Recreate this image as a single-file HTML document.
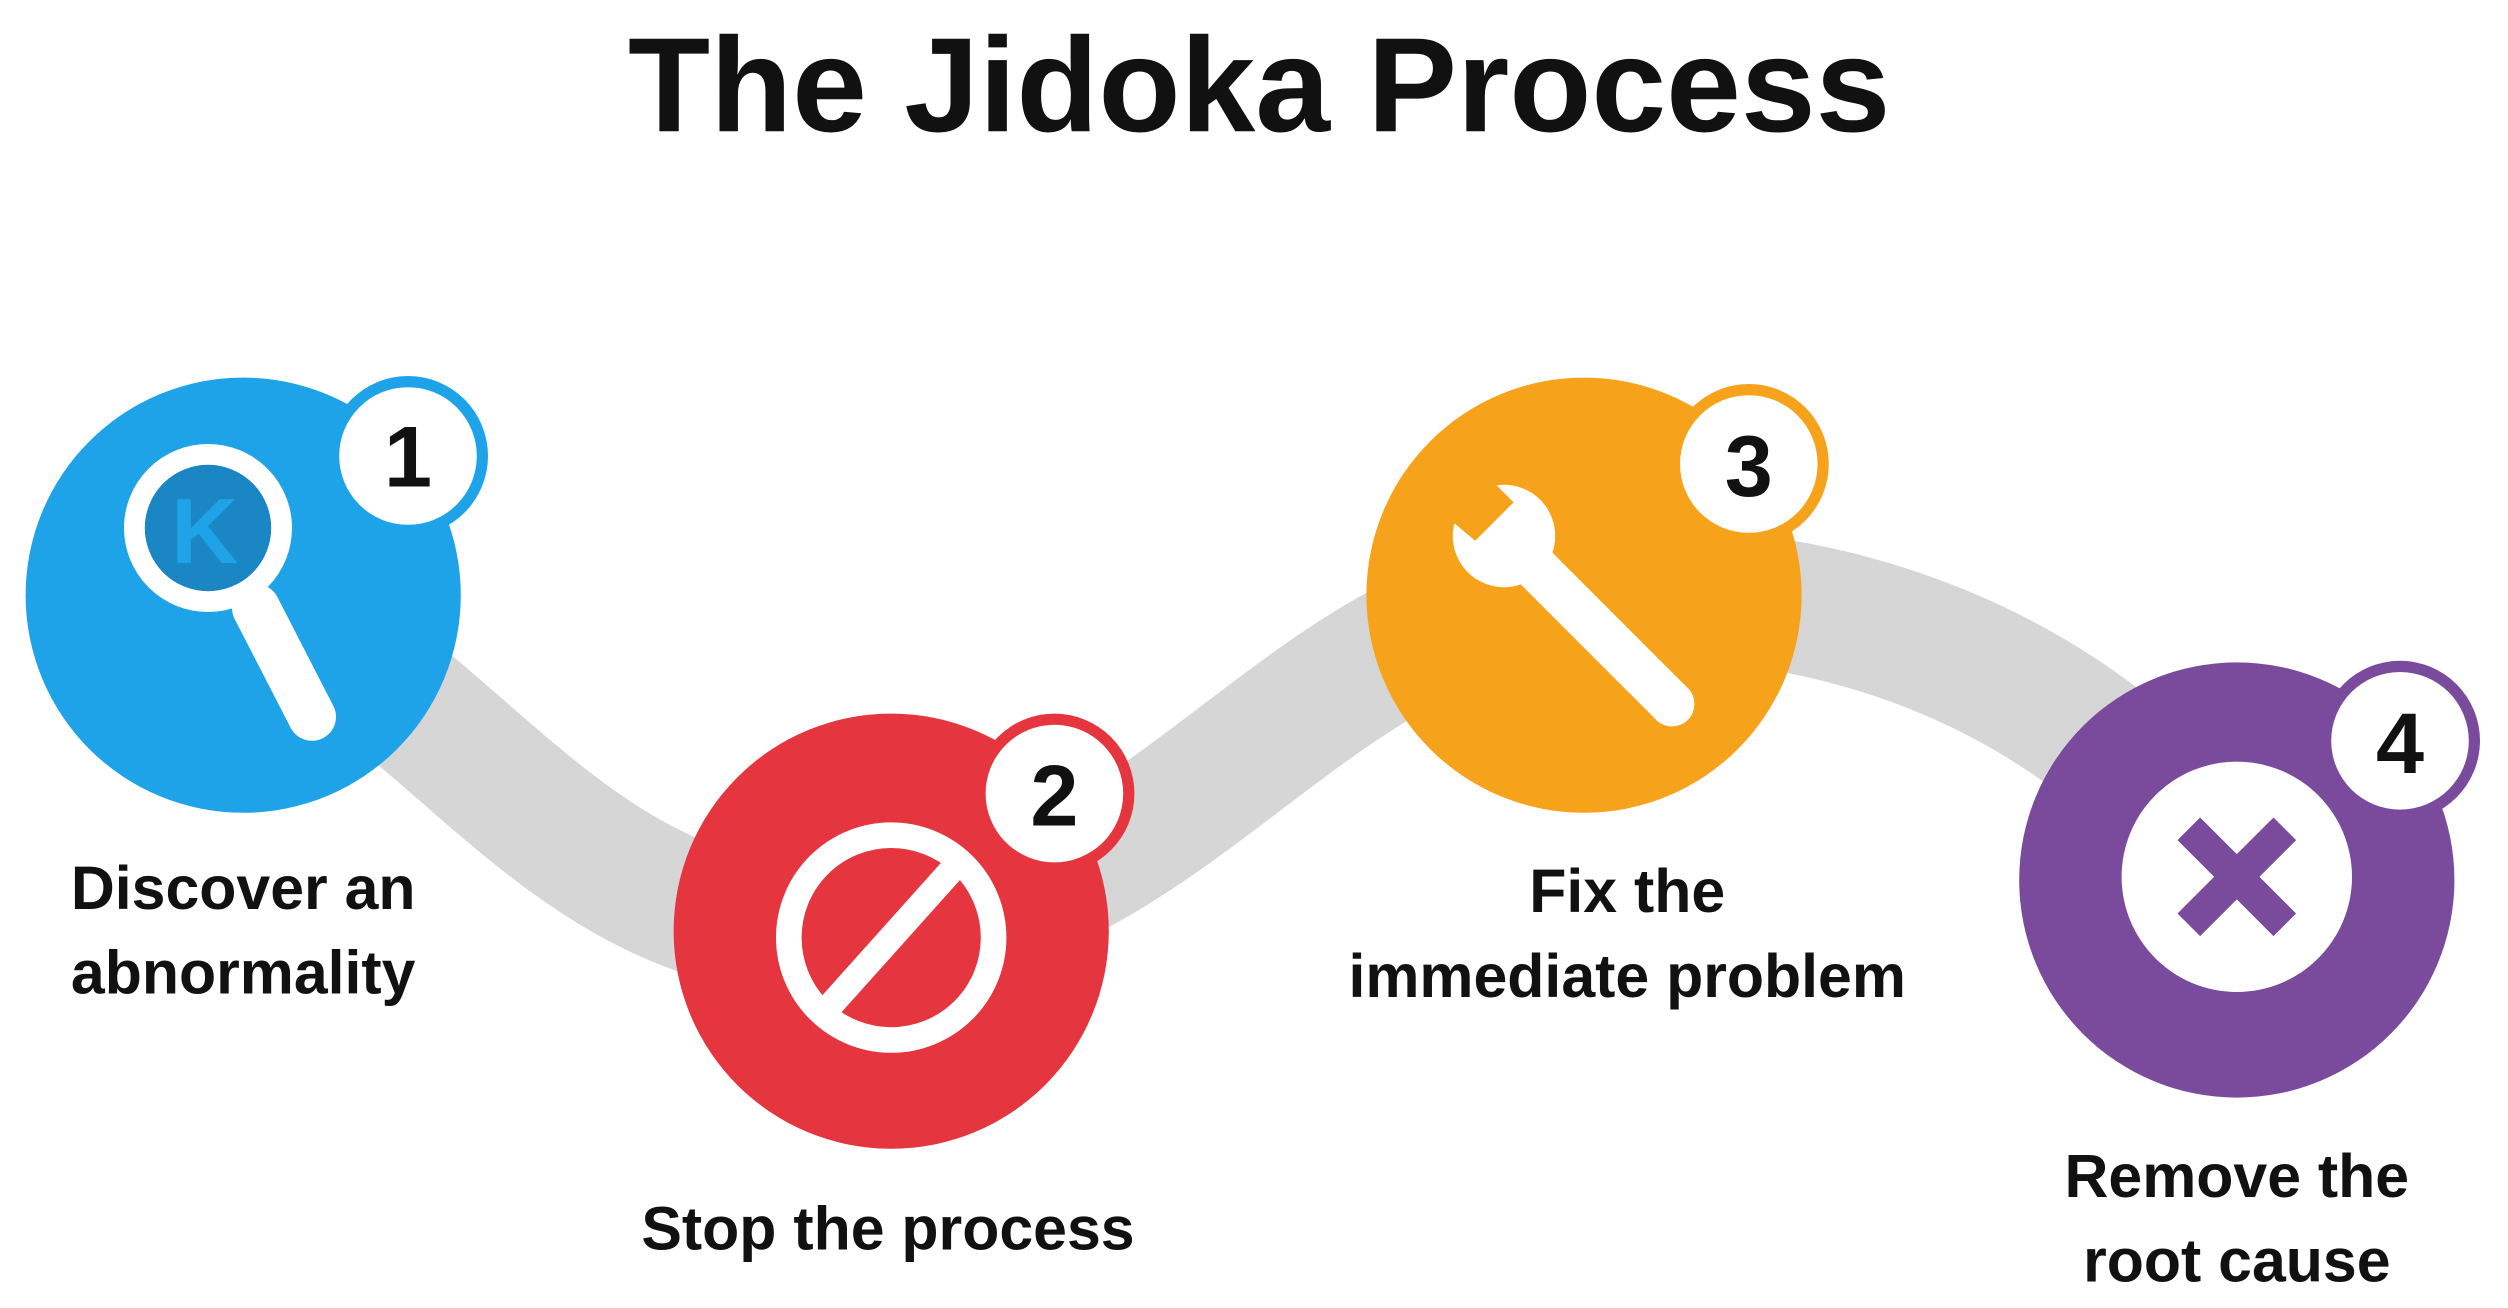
<!DOCTYPE html>
<html><head><meta charset="utf-8"><style>
html,body{margin:0;padding:0;background:#fff;width:2508px;height:1308px;overflow:hidden}
svg{display:block}
text{font-family:"Liberation Sans",sans-serif;font-weight:bold;fill:#111;text-anchor:middle}
</style></head><body>
<svg width="2508" height="1308" viewBox="0 0 1567.5 817.5" xmlns="http://www.w3.org/2000/svg">
<text x="787" y="82" font-size="84">The Jidoka Process</text>
<path d="M152,372 C300,440 360,600 557,582 C740,560 820,380 990,372 C1150,362 1300,420 1398,550" fill="none" stroke="#d6d6d6" stroke-width="82"/>
<!-- 1 -->
<circle cx="152" cy="372" r="136" fill="#1fa3e8"/>
<circle cx="255" cy="285" r="50" fill="#1fa3e8"/>
<circle cx="255" cy="285" r="43" fill="#fff"/>
<text x="255" y="304" font-size="54">1</text>
<circle cx="130" cy="330" r="46" fill="#1b86c4" stroke="#fff" stroke-width="13"/>
<text x="128" y="352" font-size="58" style="fill:#1fa3e8">K</text>
<line x1="160" y1="380" x2="195" y2="448" stroke="#fff" stroke-width="30" stroke-linecap="round"/>
<!-- 2 -->
<circle cx="557" cy="582" r="136" fill="#e5363f"/>
<circle cx="659" cy="496" r="50" fill="#e5363f"/>
<circle cx="659" cy="496" r="43" fill="#fff"/>
<text x="659" y="516" font-size="54">2</text>
<circle cx="557" cy="586" r="64" fill="none" stroke="#fff" stroke-width="16"/>
<line x1="600" y1="538" x2="514" y2="634" stroke="#fff" stroke-width="16"/>
<!-- 3 -->
<circle cx="990" cy="372" r="136" fill="#f7a21b"/>
<circle cx="1093" cy="290" r="50" fill="#f7a21b"/>
<circle cx="1093" cy="290" r="43" fill="#fff"/>
<text x="1093" y="310" font-size="54">3</text>
<line x1="950" y1="345" x2="1045" y2="440" stroke="#fff" stroke-width="28" stroke-linecap="round"/>
<circle cx="940" cy="335" r="32" fill="#fff"/>
<path d="M903,322 L930,298 L946,314 L922,338 Z" fill="#f7a21b"/>
<!-- 4 -->
<circle cx="1398" cy="550" r="136" fill="#7a4a9c"/>
<circle cx="1500" cy="463" r="50" fill="#7a4a9c"/>
<circle cx="1500" cy="463" r="43" fill="#fff"/>
<text x="1500" y="483" font-size="54">4</text>
<circle cx="1398" cy="548" r="72" fill="#fff"/>
<line x1="1368" y1="518" x2="1428" y2="578" stroke="#7a4a9c" stroke-width="20"/>
<line x1="1428" y1="518" x2="1368" y2="578" stroke="#7a4a9c" stroke-width="20"/>
<!-- labels -->
<g>
<text x="152" y="568" style="font-size:38px">Discover an</text>
<text x="152" y="621" style="font-size:38px">abnormality</text>
<text x="555" y="781" style="font-size:38px">Stop the process</text>
<text x="1017" y="570" style="font-size:38px">Fix the</text>
<text x="1017" y="623" style="font-size:38px">immediate problem</text>
<text x="1398" y="748" style="font-size:38px">Remove the</text>
<text x="1398" y="801" style="font-size:38px">root cause</text>
</g>
</svg>
</body></html>
